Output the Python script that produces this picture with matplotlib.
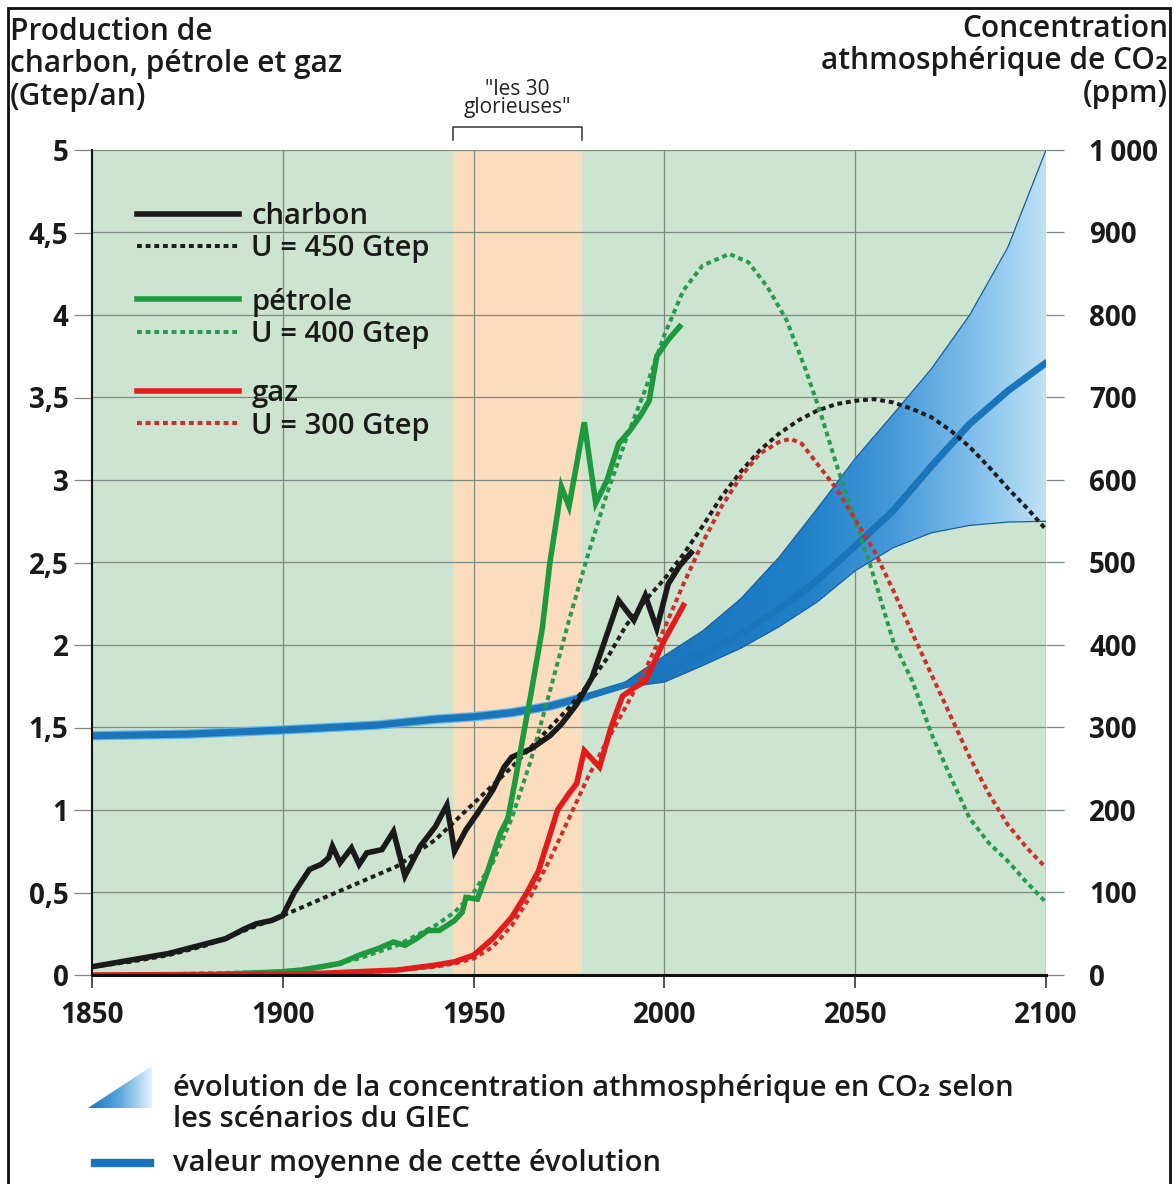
import numpy as np
import matplotlib
matplotlib.use("Agg")
import matplotlib.pyplot as plt
from matplotlib.colors import LinearSegmentedColormap
from matplotlib.patches import PathPatch, Polygon, Rectangle
from matplotlib.lines import Line2D
from matplotlib.ticker import FuncFormatter

plt.rcParams['font.family'] = ['Open Sans', 'DejaVu Sans']

# --- production (Gtep/an), observed ---
coal_years = [1850, 1855, 1860, 1865, 1870, 1875, 1880, 1885, 1890, 1893, 1897, 1900,
              1903, 1907, 1910, 1912, 1913, 1915, 1918, 1920, 1922, 1926, 1929, 1932,
              1936, 1940, 1943, 1945, 1948, 1951, 1955, 1958, 1960, 1965, 1970, 1973,
              1977, 1981, 1984, 1988, 1992, 1995, 1998, 2001, 2004, 2007]
coal_vals = [0.05, 0.07, 0.09, 0.11, 0.13, 0.16, 0.19, 0.22, 0.28, 0.31, 0.33, 0.36,
             0.50, 0.64, 0.67, 0.71, 0.78, 0.68, 0.77, 0.67, 0.74, 0.76, 0.87, 0.60,
             0.78, 0.90, 1.03, 0.75, 0.88, 0.98, 1.12, 1.26, 1.32, 1.37, 1.45, 1.52,
             1.64, 1.80, 2.00, 2.27, 2.15, 2.30, 2.10, 2.37, 2.48, 2.56]

oil_years = [1860, 1880, 1900, 1905, 1910, 1915, 1920, 1925, 1929, 1932, 1935, 1938,
             1941, 1945, 1947, 1948, 1951, 1954, 1957, 1959, 1961, 1963, 1965, 1968,
             1970, 1972, 1973, 1975, 1979, 1982, 1985, 1988, 1991, 1994, 1996, 1998,
             2001, 2004]
oil_vals = [0.0, 0.0, 0.02, 0.03, 0.05, 0.07, 0.12, 0.16, 0.20, 0.18, 0.22, 0.27,
            0.27, 0.33, 0.38, 0.47, 0.46, 0.65, 0.86, 0.95, 1.19, 1.45, 1.70, 2.10,
            2.50, 2.80, 2.96, 2.84, 3.35, 2.86, 3.00, 3.22, 3.30, 3.40, 3.48, 3.75,
            3.85, 3.93]

gas_years = [1850, 1900, 1910, 1920, 1930, 1940, 1945, 1950, 1955, 1960, 1964, 1967,
             1970, 1972, 1975, 1977, 1979, 1983, 1986, 1989, 1992, 1995, 2000, 2005]
gas_vals = [0.0, 0.005, 0.01, 0.02, 0.03, 0.06, 0.08, 0.12, 0.22, 0.35, 0.50, 0.63,
            0.85, 1.00, 1.10, 1.16, 1.36, 1.26, 1.50, 1.69, 1.74, 1.78, 2.03, 2.24]

# --- Hubbert-type scenarios (Gtep/an) ---
coal_u_years = [1850, 1860, 1870, 1880, 1890, 1900, 1910, 1920, 1930, 1940, 1950, 1960,
                1965, 1970, 1975, 1980, 1985, 1990, 1995, 2000, 2005, 2010, 2015, 2020,
                2025, 2030, 2035, 2040, 2045, 2050, 2055, 2060, 2065, 2070, 2075, 2080,
                2085, 2090, 2095, 2100]
coal_u_vals = [0.05, 0.08, 0.12, 0.18, 0.27, 0.36, 0.46, 0.56, 0.66, 0.82, 1.04, 1.26,
               1.38, 1.50, 1.62, 1.76, 1.92, 2.12, 2.27, 2.40, 2.55, 2.72, 2.90, 3.05,
               3.18, 3.28, 3.36, 3.42, 3.46, 3.48, 3.49, 3.47, 3.43, 3.38, 3.30, 3.20,
               3.08, 2.95, 2.83, 2.70]

oil_u_years = [1860, 1900, 1910, 1920, 1930, 1940, 1945, 1950, 1955, 1960, 1965, 1970,
               1975, 1980, 1985, 1990, 1995, 2000, 2005, 2010, 2017, 2022, 2027, 2032,
               2037, 2041, 2045, 2050, 2054, 2060, 2065, 2070, 2075, 2080, 2085, 2090,
               2095, 2100]
oil_u_vals = [0.0, 0.02, 0.05, 0.10, 0.18, 0.30, 0.38, 0.50, 0.68, 0.95, 1.30, 1.72,
              2.15, 2.55, 2.92, 3.25, 3.55, 3.88, 4.15, 4.30, 4.37, 4.32, 4.17, 3.97,
              3.67, 3.40, 3.10, 2.75, 2.48, 2.02, 1.78, 1.46, 1.20, 0.95, 0.80, 0.69,
              0.56, 0.44]

gas_u_years = [1850, 1900, 1920, 1930, 1940, 1945, 1950, 1955, 1960, 1965, 1970, 1975,
               1980, 1985, 1990, 1995, 2000, 2005, 2010, 2015, 2020, 2025, 2030, 2033,
               2036, 2040, 2045, 2050, 2055, 2060, 2065, 2070, 2075, 2080, 2085, 2090,
               2095, 2100]
gas_u_vals = [0.0, 0.005, 0.015, 0.03, 0.05, 0.07, 0.10, 0.17, 0.30, 0.48, 0.70, 0.95,
              1.20, 1.42, 1.63, 1.85, 2.10, 2.37, 2.62, 2.84, 3.02, 3.16, 3.23, 3.25,
              3.22, 3.10, 2.95, 2.76, 2.57, 2.33, 2.07, 1.82, 1.57, 1.32, 1.10, 0.91,
              0.77, 0.65]

# --- CO2 concentration (ppm) ---
co2_years = [1850, 1875, 1900, 1925, 1940, 1950, 1960, 1970, 1980, 1990, 2000, 2010,
             2020, 2030, 2040, 2050, 2060, 2070, 2080, 2090, 2100]
co2_mean = [290, 292, 297, 303, 310, 313, 318, 326, 338, 352, 368, 390,
            413, 443, 478, 520, 563, 617, 668, 708, 742]
band_years = [1985, 1990, 2000, 2010, 2020, 2030, 2040, 2050, 2060, 2070, 2080, 2090, 2100]
band_high = [344, 356, 387, 417, 456, 506, 565, 626, 680, 735, 800, 882, 1000]
band_low = [344, 349, 355, 375, 396, 422, 452, 490, 518, 536, 545, 549, 550]

glorieuses = (1944.5, 1978.3)

left_ticks = np.arange(0, 5.01, 0.5)
right_ticks = np.arange(0, 1001, 100)
x_ticks = [1850, 1900, 1950, 2000, 2050, 2100]

green_bg = '#cde4d0'
orange_bg = '#fbdcbd'
grid_c = '#7c8a80'
txt_c = '#1a1a1a'

W, H = 1174, 1184
fig = plt.figure(figsize=(W / 100, H / 100), dpi=100)
ax = fig.add_axes([92 / W, 1 - 975 / H, 954 / W, 825 / H])
ax2 = ax.twinx()
ax2.set_zorder(ax.get_zorder() - 1)
ax.patch.set_visible(False)
ax2.patch.set_visible(True)
ax2.patch.set_facecolor(green_bg)

# background elements on ax2 (drawn below the fuel curves)
ax2.axvspan(*glorieuses, color=orange_bg, lw=0, zorder=0.5)
for xt in x_ticks[1:]:
    ax2.axvline(xt, color=grid_c, lw=0.9, zorder=1)
ax2.grid(axis='y', color=grid_c, lw=0.9, zorder=1)
ax2.set_axisbelow(True)

band = ax2.fill_between(band_years, band_low, band_high, facecolor='none', edgecolor='none')
clip = PathPatch(band.get_paths()[0], transform=ax2.transData, fc='none', ec='none')
ax2.add_patch(clip)
band_cmap = LinearSegmentedColormap.from_list(
    'band', [(0, '#1a72bb'), (0.45, '#1f80c8'), (0.65, '#4499d9'), (0.86, '#88c3ec'), (1, '#c0e2f6')])
grad = np.linspace(0, 1, 256).reshape(1, -1)
im = ax2.imshow(grad, extent=[band_years[0], 2100, 0, 1000], aspect='auto',
                cmap=band_cmap, zorder=2, interpolation='bilinear')
im.set_clip_path(clip)
ax2.plot(band_years, band_high, color='#1a5f9c', lw=0.9, zorder=2.5)
ax2.plot(band_years, band_low, color='#1a5f9c', lw=0.9, zorder=2.5)
# light halo only on the historic part of the mean curve
ax2.plot(co2_years[:9], co2_mean[:9], color='#62b7e6', lw=6.8, solid_capstyle='butt', zorder=2.8)
ax2.plot(co2_years, co2_mean, color='#1b75bb', lw=5, solid_capstyle='round', zorder=3)

# fuel curves on ax
ls_dash = (0, (1.2, 0.95))
dash_lw = 2.9
ax.plot(coal_u_years, coal_u_vals, color='#1e1e1e', lw=dash_lw, linestyle=ls_dash)
ax.plot(oil_u_years, oil_u_vals, color='#2a9a50', lw=dash_lw, linestyle=ls_dash)
ax.plot(gas_u_years, gas_u_vals, color='#cc2f2c', lw=dash_lw, linestyle=ls_dash)
l_coal, = ax.plot(coal_years, coal_vals, color='#1a1a1a', lw=4, solid_joinstyle='miter')
l_oil, = ax.plot(oil_years, oil_vals, color='#1e9a3e', lw=4, solid_joinstyle='miter')
l_gas, = ax.plot(gas_years, gas_vals, color='#e31b1b', lw=4, solid_joinstyle='miter')

ax.set_xlim(1850, 2100)
ax.set_ylim(0, 5)
ax2.set_ylim(0, 1000)
ax2.set_xlim(1850, 2100)

# axes styling
ax.set_yticks(left_ticks)
ax.yaxis.set_major_formatter(FuncFormatter(lambda v, p: f"{v:g}".replace('.', ',')))
ax.set_xticks(x_ticks)
ax2.set_yticks(right_ticks)
ax2.yaxis.set_major_formatter(FuncFormatter(lambda v, p: f"{v:,.0f}".replace(',', '\u2009')))
ax.tick_params(axis='y', length=13, width=0.9, color=grid_c, pad=4, labelsize=20)
ax2.tick_params(axis='y', length=13, width=0.9, color=grid_c, pad=18, labelsize=20)
ax.tick_params(axis='x', length=9, width=1.2, color='#333333', pad=10, labelsize=20)
for lab in ax.get_yticklabels() + ax.get_xticklabels() + ax2.get_yticklabels():
    lab.set_fontweight('bold')
    lab.set_color(txt_c)
for a in (ax, ax2):
    a.spines['top'].set_visible(False)
    a.spines['right'].set_visible(False)
ax2.spines['left'].set_visible(False)
ax2.spines['bottom'].set_visible(False)
ax.spines['left'].set_color('#111111')
ax.spines['left'].set_linewidth(1.5)
ax.spines['bottom'].set_color('#111111')
ax.spines['bottom'].set_linewidth(2.2)

# legends inside the plot
lprop = {'size': 21, 'weight': 'semibold'}
groups = [
    (l_coal, 'charbon', '#1e1e1e', 'U = 450 Gtep', 0.900),
    (l_oil, 'pétrole', '#2a9a50', 'U = 400 Gtep', 0.796),
    (l_gas, 'gaz', '#cc2f2c', 'U = 300 Gtep', 0.685),
]
for i, (sol, lab, dcol, ulab, yy) in enumerate(groups):
    h_sol = Line2D([], [], color=sol.get_color(), lw=4)
    h_dash = Line2D([], [], color=dcol, lw=dash_lw, linestyle=ls_dash)
    leg = ax.legend([h_sol, h_dash], [lab, ulab], loc='center left',
                    bbox_to_anchor=(0.047, yy), frameon=False, prop=lprop,
                    handlelength=3.5, handletextpad=0.42, labelspacing=0.12,
                    borderpad=0, borderaxespad=0)
    for t in leg.get_texts():
        t.set_color(txt_c)
    if i < len(groups) - 1:
        ax.add_artist(leg)

# "les 30 glorieuses" bracket
ax.plot([glorieuses[0], glorieuses[0], glorieuses[1], glorieuses[1]],
        [5.06, 5.14, 5.14, 5.06], color='#333333', lw=1.1, clip_on=False)
ax.text(sum(glorieuses) / 2, 5.31, '"les 30\nglorieuses"', ha='center', va='center',
        fontsize=15, linespacing=0.8, color='#222222', clip_on=False)

# axis titles
fig.text(10 / W, 1 - 17 / H, 'Production de\ncharbon, pétrole et gaz\n(Gtep/an)',
         ha='left', va='top', fontsize=21.5, weight='semibold', linespacing=1.1, color=txt_c)
fig.text(1168 / W, 1 - 14 / H, 'Concentration\nathmosphérique de CO\u2082\n(ppm)',
         ha='right', va='top', fontsize=21.5, weight='semibold', linespacing=1.1,
         multialignment='right', color=txt_c)

# bottom legend
icon = fig.add_axes([88 / W, 1 - 1108 / H, 64 / W, 42 / H])
icon.axis('off')
tri = Polygon([(0, 0), (1, 1), (1, 0)], closed=True, transform=icon.transAxes, fc='none', ec='none')
icon.add_patch(tri)
icon_cmap = LinearSegmentedColormap.from_list('icon', ['#1a72bb', '#5aa8e0', '#e6f3fb'])
ic = icon.imshow(grad, extent=[0, 1, 0, 1], aspect='auto', cmap=icon_cmap,
                 transform=icon.transAxes, interpolation='bilinear')
ic.set_clip_path(tri)
fig.text(173 / W, 1 - 1104 / H, 'évolution de la concentration athmosphérique en CO\u2082 selon\nles scénarios du GIEC',
         ha='left', va='center', fontsize=21, weight='semibold', linespacing=1.05, color=txt_c)
fig.add_artist(Line2D([95 / W, 150 / W], [1 - 1163 / H, 1 - 1163 / H], transform=fig.transFigure,
                      lw=6, color='#1b75bb'))
fig.text(173 / W, 1 - 1163 / H, 'valeur moyenne de cette évolution',
         ha='left', va='center', fontsize=21, weight='semibold', color=txt_c)

# frame around the whole figure
fig.add_artist(Rectangle((8 / W, -0.01), 1162 / W, 1.01 - 8 / H, transform=fig.transFigure,
                         fill=False, lw=2, ec='#111111'))

fig.savefig('out.png', dpi=100)
